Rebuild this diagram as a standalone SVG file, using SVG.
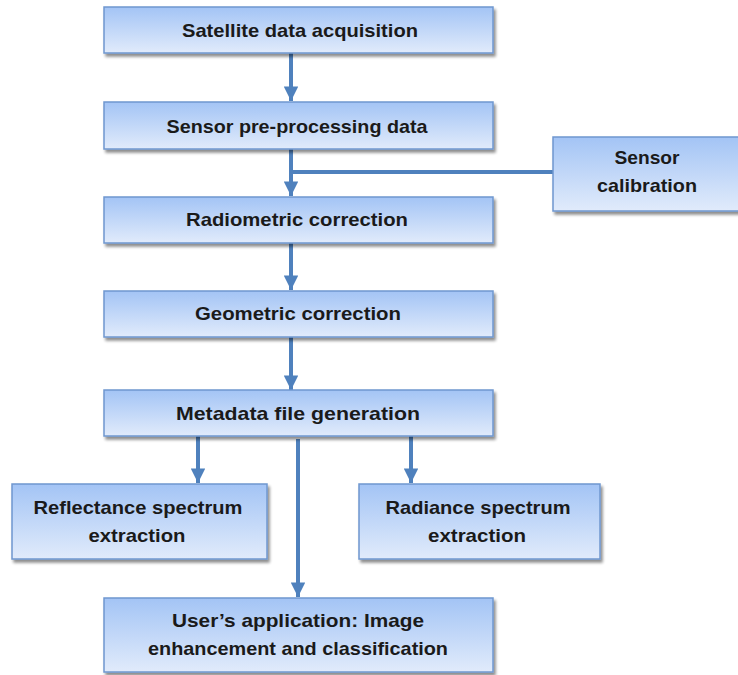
<svg xmlns="http://www.w3.org/2000/svg" width="738" height="675" viewBox="0 0 738 675">
<defs>
<linearGradient id="g" x1="0" y1="0" x2="0" y2="1">
<stop offset="0" stop-color="#a3c4f5"/>
<stop offset="1" stop-color="#e1ebfb"/>
</linearGradient>
<filter id="sh" x="-5%" y="-10%" width="115%" height="130%">
<feGaussianBlur in="SourceAlpha" stdDeviation="1.8"/>
<feOffset dx="1.5" dy="2.5" result="b"/>
<feComponentTransfer><feFuncA type="linear" slope="0.45"/></feComponentTransfer>
<feMerge><feMergeNode/><feMergeNode in="SourceGraphic"/></feMerge>
</filter>
<marker id="ah" viewBox="0 0 10 10" refX="10" refY="5" markerWidth="4" markerHeight="3.6" markerUnits="strokeWidth" orient="auto">
<path d="M0,0 L10,5 L0,10 z" fill="#4f81bd"/>
</marker>
</defs>
<style>
.box{fill:url(#g);stroke:#6f97cf;stroke-width:1.5;filter:url(#sh)}
.t{font-family:"Liberation Sans",Arial,sans-serif;font-weight:bold;font-size:19px;fill:#1a1a1a;text-anchor:middle;dominant-baseline:central}
.c{stroke:#4f81bd;stroke-width:4;fill:none}
</style>
<g id="connectors">
<line class="c" x1="291" y1="53" x2="291" y2="101" marker-end="url(#ah)"/>
<line class="c" x1="291" y1="149" x2="291" y2="196" marker-end="url(#ah)"/>
<line class="c" x1="289" y1="172" x2="553" y2="172"/>
<line class="c" x1="291" y1="243" x2="291" y2="290" marker-end="url(#ah)"/>
<line class="c" x1="291" y1="337" x2="291" y2="390" marker-end="url(#ah)"/>
<line class="c" x1="198" y1="436" x2="198" y2="483" marker-end="url(#ah)"/>
<line class="c" x1="411" y1="436" x2="411" y2="483" marker-end="url(#ah)"/>
<line class="c" x1="298" y1="439" x2="298" y2="597" marker-end="url(#ah)"/>
</g>
<g id="n1"><rect class="box" x="104" y="7" width="389" height="46"/><text class="t" x="300" y="30" textLength="236" lengthAdjust="spacingAndGlyphs">Satellite data acquisition</text></g>
<g id="n2"><rect class="box" x="104" y="102" width="389" height="47"/><text class="t" x="297" y="126" textLength="261" lengthAdjust="spacingAndGlyphs">Sensor pre-processing data</text></g>
<g id="n3"><rect class="box" x="553" y="137" width="190" height="74"/><text class="t" x="647" y="157" textLength="65" lengthAdjust="spacingAndGlyphs">Sensor</text><text class="t" x="647" y="185" textLength="100" lengthAdjust="spacingAndGlyphs">calibration</text></g>
<g id="n4"><rect class="box" x="104" y="197" width="389" height="46"/><text class="t" x="297" y="219" textLength="222" lengthAdjust="spacingAndGlyphs">Radiometric correction</text></g>
<g id="n5"><rect class="box" x="104" y="291" width="389" height="46"/><text class="t" x="298" y="313" textLength="206" lengthAdjust="spacingAndGlyphs">Geometric correction</text></g>
<g id="n6"><rect class="box" x="104" y="390" width="389" height="46"/><text class="t" x="298" y="413" textLength="244" lengthAdjust="spacingAndGlyphs">Metadata file generation</text></g>
<g id="n7"><rect class="box" x="12" y="484" width="255" height="75"/><text class="t" x="138" y="507" textLength="209" lengthAdjust="spacingAndGlyphs">Reflectance spectrum</text><text class="t" x="137" y="535" textLength="97" lengthAdjust="spacingAndGlyphs">extraction</text></g>
<g id="n8"><rect class="box" x="359" y="484" width="241" height="75"/><text class="t" x="478" y="507" textLength="185" lengthAdjust="spacingAndGlyphs">Radiance spectrum</text><text class="t" x="477" y="535" textLength="98" lengthAdjust="spacingAndGlyphs">extraction</text></g>
<g id="n9"><rect class="box" x="104" y="598" width="389" height="74"/><text class="t" x="298" y="620" textLength="252" lengthAdjust="spacingAndGlyphs">User’s application: Image</text><text class="t" x="298" y="648" textLength="300" lengthAdjust="spacingAndGlyphs">enhancement and classification</text></g>
</svg>
